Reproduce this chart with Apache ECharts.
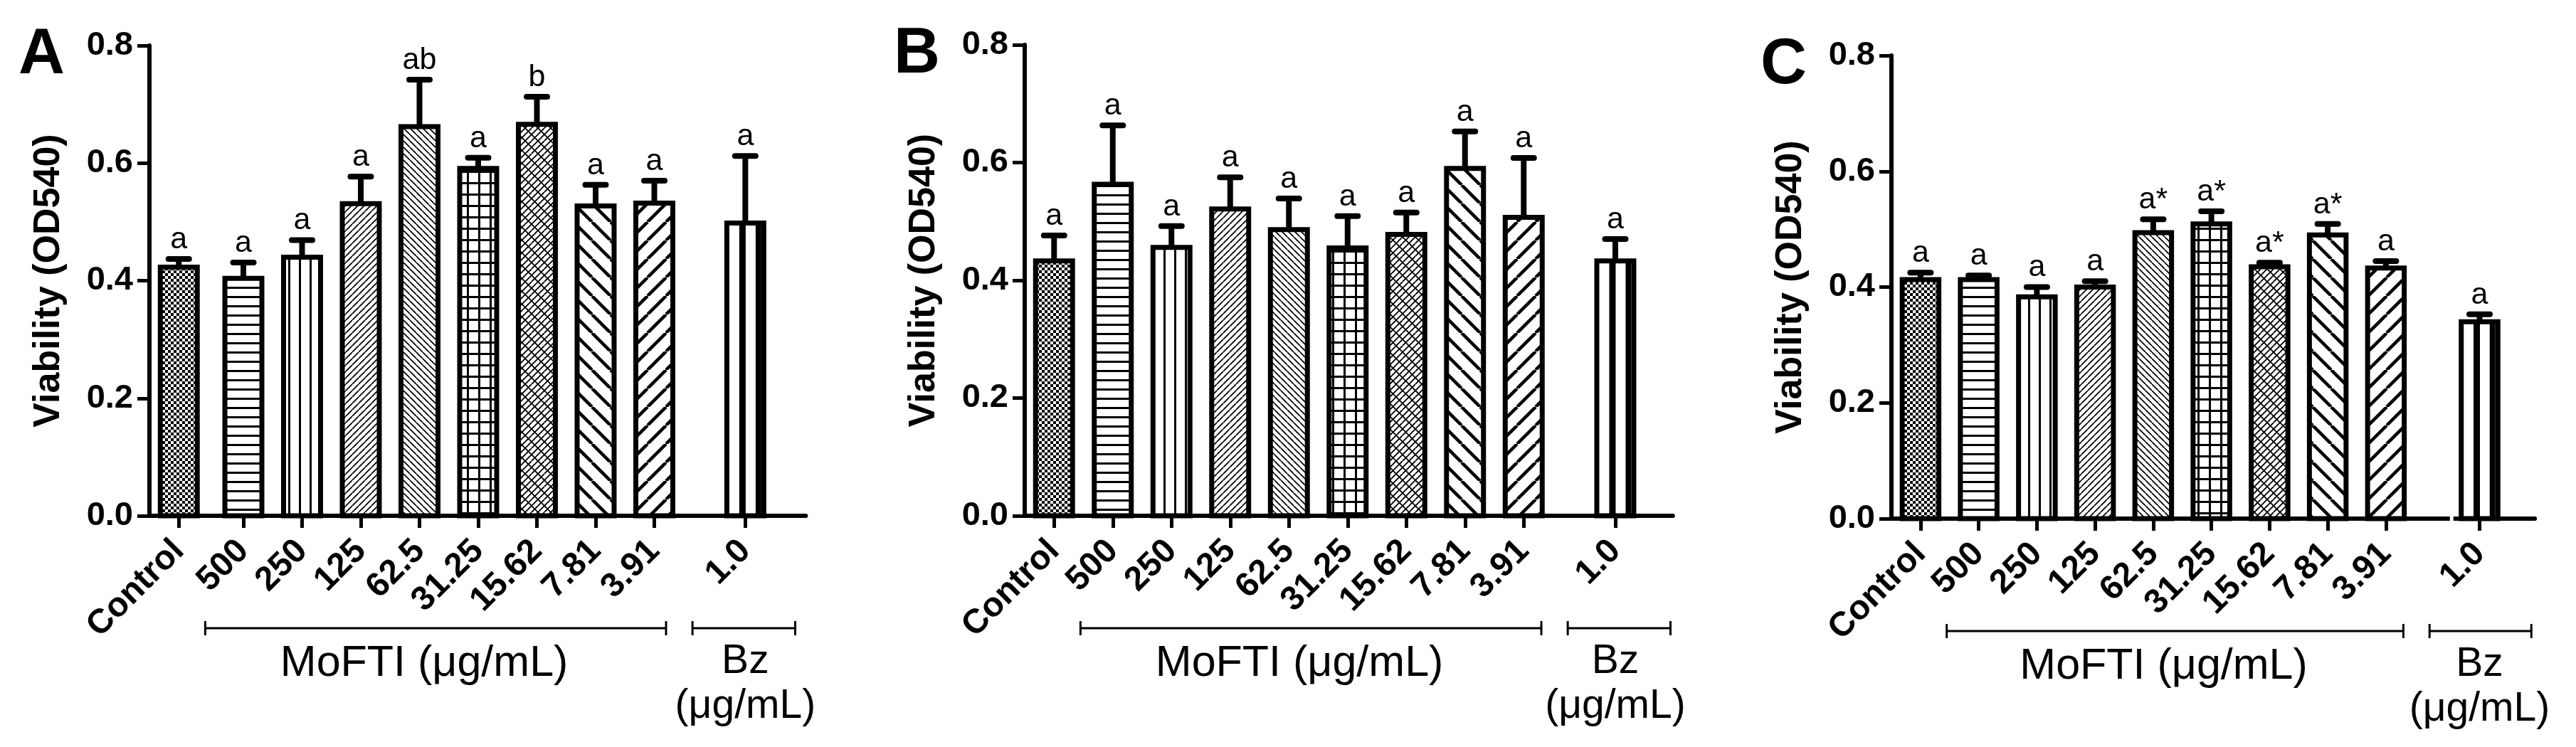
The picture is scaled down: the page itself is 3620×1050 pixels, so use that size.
<!DOCTYPE html>
<html>
<head>
<meta charset="utf-8">
<title>Viability (OD540)</title>
<script src="https://cdn.jsdelivr.net/npm/echarts@6/dist/echarts.min.js"></script>
<style>
  html, body { margin: 0; padding: 0; background: #fff; }
  #chart { width: 3620px; height: 1050px; }
</style>
</head>
<body>
<div id="chart"></div>
<script>
// ------------------------------
// DATA
// ------------------------------
const doseLabels = ['Control', '500', '250', '125', '62.5', '31.25', '15.62', '7.81', '3.91', '1.0'];

const meanA = [0.423, 0.404, 0.440, 0.531, 0.662, 0.591, 0.666, 0.527, 0.532, 0.498];
const sdA   = [0.014, 0.027, 0.029, 0.046, 0.080, 0.018, 0.047, 0.036, 0.038, 0.114];
const sigA  = ['a', 'a', 'a', 'a', 'ab', 'a', 'b', 'a', 'a', 'a'];

const meanB = [0.433, 0.563, 0.456, 0.521, 0.486, 0.455, 0.478, 0.590, 0.507, 0.433];
const sdB   = [0.043, 0.100, 0.036, 0.054, 0.053, 0.054, 0.037, 0.063, 0.101, 0.037];
const sigB  = ['a', 'a', 'a', 'a', 'a', 'a', 'a', 'a', 'a', 'a'];

const meanC = [0.413, 0.413, 0.383, 0.400, 0.494, 0.509, 0.435, 0.490, 0.433, 0.340];
const sdC   = [0.012, 0.007, 0.017, 0.010, 0.023, 0.022, 0.007, 0.019, 0.012, 0.013];
const sigC  = ['a', 'a', 'a', 'a', 'a*', 'a*', 'a*', 'a*', 'a', 'a'];

const groupNames = ['MoFTI (\u03bcg/mL)', 'Bz', '(\u03bcg/mL)'];
const yName = 'Viability (OD540)';

// ------------------------------
// LAYOUT / STYLE
// ------------------------------
const FONT = '"Liberation Sans", Arial, Helvetica, sans-serif';

// one entry per panel: pixel placement of the plot box and slot spacing
const panels = [
  { key: 'A', left: 210,  top: 64, height: 661, unit: 82.5,  xMax: 10.68, mofShift: 0.1, bzPos: 9.65, mean: meanA, sd: sdA, sig: sigA },
  { key: 'B', left: 1440, top: 63, height: 662, unit: 82.5,  xMax: 10.54, mofShift: 0,   bzPos: 9.56, mean: meanB, sd: sdB, sig: sigB },
  { key: 'C', left: 2658, top: 78, height: 651, unit: 81.75, xMax: 10.56, mofShift: 0,   bzPos: 9.61, mean: meanC, sd: sdC, sig: sigC, axisBreak: 9.13 }
];
const X_MIN = -0.5;

let slotPos = (p, i) => (i === 0 ? 0 : i <= 8 ? i + p.mofShift : p.bzPos);

// hatch tiles
let tile = (size, draw) => {
  const c = document.createElement('canvas');
  c.width = size; c.height = size;
  const g = c.getContext('2d');
  g.fillStyle = '#fff';
  g.fillRect(0, 0, size, size);
  g.fillStyle = '#000';
  g.strokeStyle = '#000';
  draw(g, size);
  return { image: c, repeat: 'repeat' };
};

// dir > 0 : "/" lines, dir < 0 : "\" lines, step = vertical spacing
let diag = (g, s, step, w, dir) => {
  g.lineWidth = w;
  g.beginPath();
  for (let x0 = -s; x0 <= s; x0 += step) {
    if (dir > 0) { g.moveTo(x0, s); g.lineTo(x0 + s, 0); }
    else { g.moveTo(x0, 0); g.lineTo(x0 + s, s); }
  }
  g.stroke();
};

const fills = {
  checker:  tile(8,  g => { g.fillRect(0, 0, 4, 4); g.fillRect(4, 4, 4, 4); }),
  hlines:   tile(13, g => g.fillRect(0, 0, 13, 3)),
  vlines:   tile(15, g => g.fillRect(0, 0, 3, 15)),
  fineUp:   tile(9,  (g, s) => diag(g, s, s, 1.7, 1)),
  fineDown: tile(9,  (g, s) => diag(g, s, s, 1.7, -1)),
  grid:     tile(16, g => { g.fillRect(0, 0, 16, 3); g.fillRect(0, 0, 3, 16); }),
  weave:    tile(18, (g, s) => { diag(g, s, 9, 1.8, 1); diag(g, s, 18, 1.8, -1); }),
  wideDown: tile(26, (g, s) => diag(g, s, s, 4.5, -1)),
  wideUp:   tile(26, (g, s) => diag(g, s, s, 4.5, 1)),
  plain:    '#fff'
};
const barFills = ['checker', 'hlines', 'vlines', 'fineUp', 'fineDown', 'grid', 'weave', 'wideDown', 'wideUp', 'plain'];

let txt = (text, x, y, size, weight, align) => ({
  type: 'text',
  style: {
    text: text, x: x, y: y,
    font: (weight || 'normal') + ' ' + size + 'px ' + FONT,
    fill: '#000',
    align: align || 'center', textAlign: align || 'center',
    verticalAlign: 'middle', textVerticalAlign: 'middle'
  }
});

let vline = (x, y1, y2, w) => ({ type: 'line', shape: { x1: x, y1: y1, x2: x, y2: y2 }, style: { stroke: '#000', lineWidth: w } });
let hline = (x1, x2, y, w, cap) => ({ type: 'line', shape: { x1: x1, y1: y, x2: x2, y2: y }, style: { stroke: '#000', lineWidth: w, lineCap: cap || 'butt' } });

// ------------------------------
// RENDERERS
// ------------------------------
let renderBars = p => (params, api) => {
  const x = api.value(0), m = api.value(1), s = api.value(2), i = api.value(3);
  const base = api.coord([x, 0]);
  const top = api.coord([x, m]);
  const err = api.coord([x, m + s]);
  const w = api.size([0.63, 0])[0];
  const cx = base[0];
  const kids = [];
  kids.push({
    type: 'rect',
    shape: { x: cx - w / 2, y: top[1], width: w, height: base[1] - top[1] },
    style: { fill: fills[barFills[i]], stroke: '#000', lineWidth: 7 }
  });
  if (barFills[i] === 'plain') {
    kids.push(vline(cx - 4, top[1], base[1], 9));
    kids.push(vline(cx + w / 2 - 7.5, top[1], base[1], 8));
  }
  kids.push(vline(cx, top[1], err[1], 8));
  kids.push(hline(cx - 14.5, cx + 14.5, err[1], 8, 'round'));
  kids.push(txt(p.sig[i], cx, err[1] - 27, 43, 'normal'));
  return { type: 'group', children: kids };
};

let renderDecor = p => (params, api) => {
  const at = v => api.coord([v, 0]);
  const base = at(0)[1];
  const corner = api.coord([X_MIN, 0.8]);
  const yb = base + 158;
  const kids = [];
  // group brackets
  [[0.45, 8.3], [8.75, 10.5]].forEach(([a, b]) => {
    const xa = at(a)[0], xb = at(b)[0];
    kids.push(hline(xa, xb, yb, 3));
    kids.push(vline(xa, yb - 10, yb + 10, 3));
    kids.push(vline(xb, yb - 10, yb + 10, 3));
  });
  kids.push(txt(groupNames[0], at(4.18)[0], base + 226 - 18, 61, 'normal'));
  kids.push(txt(groupNames[1], at(p.bzPos)[0], base + 222 - 17, 57, 'normal'));
  kids.push(txt(groupNames[2], at(p.bzPos)[0], base + 285 - 17, 57, 'normal'));
  // panel letter
  kids.push(txt(p.key, corner[0] - 184, corner[1] + 14, 90, 'bold', 'left'));
  // small break in the x axis line
  if (p.axisBreak) {
    const xk = at(p.axisBreak)[0];
    kids.push({ type: 'rect', shape: { x: xk - 2.5, y: base - 6, width: 5, height: 12 }, style: { fill: '#fff' } });
  }
  return { type: 'group', children: kids };
};

// ------------------------------
// OPTION
// ------------------------------
const grids = [], xAxes = [], yAxes = [], series = [];

panels.forEach((p, k) => {
  const positions = doseLabels.map((_, i) => slotPos(p, i));
  grids.push({
    left: p.left, top: p.top, height: p.height,
    width: (p.xMax - X_MIN) * p.unit,
    containLabel: false, outerBoundsMode: 'none'
  });
  xAxes.push({
    type: 'value', gridIndex: k, min: X_MIN, max: p.xMax,
    splitLine: { show: false },
    axisLine: { show: true, onZero: false, lineStyle: { color: '#000', width: 6 } },
    axisTick: { show: true, customValues: positions, length: 17, lineStyle: { color: '#000', width: 5 } },
    axisLabel: {
      customValues: positions, rotate: 45, margin: 42,
      color: '#000', fontFamily: FONT, fontWeight: 'bold', fontSize: 48,
      formatter: v => {
        const i = positions.findIndex(q => Math.abs(q - v) < 1e-6);
        return i < 0 ? '' : doseLabels[i];
      }
    }
  });
  yAxes.push({
    type: 'value', gridIndex: k, min: 0, max: 0.8, interval: 0.2,
    name: yName, nameLocation: 'middle', nameRotate: 90, nameGap: 115,
    nameTextStyle: { color: '#000', fontFamily: FONT, fontWeight: 'bold', fontSize: 52 },
    splitLine: { show: false },
    axisLine: { show: true, onZero: false, lineStyle: { color: '#000', width: 6 } },
    axisTick: { show: true, length: 17, lineStyle: { color: '#000', width: 5 } },
    axisLabel: {
      margin: 23, color: '#000', fontFamily: FONT, fontWeight: 'bold', fontSize: 47,
      formatter: v => v.toFixed(1)
    }
  });
  series.push({
    type: 'custom', xAxisIndex: k, yAxisIndex: k,
    renderItem: renderBars(p),
    data: doseLabels.map((_, i) => [positions[i], p.mean[i], p.sd[i], i]),
    clip: false, silent: true
  });
  series.push({
    type: 'custom', xAxisIndex: k, yAxisIndex: k, z: 3,
    renderItem: renderDecor(p),
    data: [[0, 0]],
    clip: false, silent: true
  });
});

const chart = echarts.init(document.getElementById('chart'), null, { renderer: 'canvas' });
chart.setOption({
  animation: false,
  backgroundColor: '#fff',
  grid: grids,
  xAxis: xAxes,
  yAxis: yAxes,
  series: series
});
</script>
</body>
</html>
